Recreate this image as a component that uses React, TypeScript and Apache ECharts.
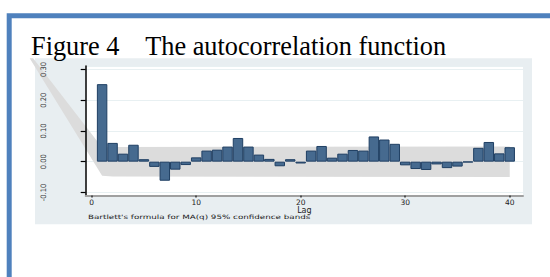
import React, { useEffect, useRef } from 'react';
import * as echarts from 'echarts';

const lags = [1, 2, 3, 4, 5, 6, 7, 8, 9, 10, 11, 12, 13, 14, 15, 16, 17, 18, 19, 20, 21, 22, 23, 24, 25, 26, 27, 28, 29, 30, 31, 32, 33, 34, 35, 36, 37, 38, 39, 40];
const acf = [0.252, 0.061, 0.026, 0.055, 0.008, -0.017, -0.062, -0.026, -0.011, 0.014, 0.036, 0.039, 0.049, 0.077, 0.049, 0.023, 0.009, -0.015, 0.008, -0.006, 0.036, 0.051, 0.013, 0.026, 0.038, 0.036, 0.082, 0.072, 0.058, -0.012, -0.024, -0.027, -0.009, -0.021, -0.016, -0.002, 0.045, 0.064, 0.027, 0.047];

const bandUpperLag = [-5.6, 1, 2, 40];
const bandUpper = [0.336, 0.046, 0.048, 0.049];
const bandLowerLag = [-5.93, 1, 2, 40];
const bandLower = [0.336, -0.046, -0.048, -0.05];

const xTicks = [0, 10, 20, 30, 40];
const yTicks = [-0.1, 0, 0.1, 0.2, 0.3];

const titleText = 'Figure 4    The autocorrelation function';
const xName = 'Lag';
const noteText = "Bartlett's formula for MA(q) 95% confidence bands";

export default function App() {
  const ref = useRef<HTMLDivElement>(null);
  useEffect(() => {
    if (!ref.current) return;
    const chart = echarts.init(ref.current, null, { renderer: 'svg' });
    const yMin = -0.11;
    const yMax = 0.311;
    chart.setOption({
      animation: false,
      grid: {
        left: 85.7,
        right: 27,
        top: 66,
        height: 129.5,
        show: true,
        backgroundColor: '#ffffff',
        borderWidth: 0,
      },
      xAxis: {
        type: 'value',
        min: -0.57,
        max: 41.27,
        z: 5,
        name: xName,
        nameLocation: 'middle',
        nameGap: 11,
        nameMoveOverlap: false,
        nameTextStyle: { fontSize: 8, fontFamily: 'DejaVu Sans', color: '#222' },
        axisLine: { show: true, onZero: false, lineStyle: { color: '#a0a0a0', width: 2 } },
        axisTick: { show: true, customValues: xTicks, length: 2, lineStyle: { color: '#333', width: 1.5 } },
        axisLabel: { customValues: xTicks, fontSize: 7.5, margin: 3, fontFamily: 'DejaVu Sans', color: '#222' },
        splitLine: { show: false },
      },
      yAxis: [
        {
          type: 'value',
          min: yMin,
          max: yMax,
          z: 0,
          axisLine: { show: false },
          axisTick: { show: false },
          axisLabel: { show: false },
          splitLine: { show: true, lineStyle: { color: '#e8f0f2', width: 1 } },
        },
        {
          type: 'value',
          min: yMin,
          max: yMax,
          position: 'left',
          offset: 0,
          z: 5,
          axisLine: { show: true, lineStyle: { color: '#000', width: 1.5 } },
          axisTick: { show: true, customValues: yTicks, length: 5, lineStyle: { color: '#000', width: 1.2 } },
          axisLabel: {
            customValues: yTicks,
            rotate: 90,
            margin: 38,
            fontSize: 7.5,
            color: '#333',
            fontFamily: "'Liberation Sans Narrow', 'DejaVu Sans Condensed', sans-serif",
            formatter: (v: number) => v.toFixed(2),
          },
          splitLine: { show: false },
        },
      ],
      graphic: [
        {
          type: 'rect',
          z: -10,
          shape: { x: 35, y: 58.3, width: 497, height: 166 },
          style: { fill: '#e8eef1' },
        },
        {
          type: 'rect',
          z: 10,
          shape: { x: 9.2, y: 15.7, width: 700, height: 400 },
          style: { fill: 'none', stroke: '#4f81bd', lineWidth: 5 },
        },
        {
          type: 'text',
          z: 10,
          x: 31,
          y: 46,
          style: {
            text: titleText,
            fontSize: 26.3,
            fontFamily: 'Liberation Serif',
            fill: '#000',
            verticalAlign: 'middle',
            textAlign: 'left',
          },
        },
        {
          type: 'text',
          z: 10,
          x: 88,
          y: 217.5,
          scaleX: 1.46,
          style: {
            text: noteText,
            fontSize: 6,
            fontFamily: 'DejaVu Sans',
            fill: '#222',
            verticalAlign: 'middle',
            textAlign: 'left',
          },
        },
      ],
      series: [
        {
          type: 'custom',
          z: 1,
          silent: true,
          clip: false,
          data: [[0, 0]],
          renderItem: (params: any, api: any) => {
            const up = bandUpperLag.map((l, i) => api.coord([l, bandUpper[i]]));
            const lo = bandLowerLag.map((l, i) => api.coord([l, bandLower[i]])).reverse();
            return {
              type: 'polygon',
              shape: { points: [...up, ...lo] },
              style: { fill: '#dcdcdc' },
            };
          },
        },
        {
          type: 'bar',
          z: 2,
          barWidth: '100%',
          data: lags.map((l, i) => [l, acf[i]]),
          itemStyle: { color: '#466a8f', borderColor: '#1f3f63', borderWidth: 1 },
        },
      ],
    });
    return () => chart.dispose();
  }, []);
  return <div ref={ref} style={{ position: 'absolute', left: 0, top: 0, width: 550, height: 277 }} />;
}
